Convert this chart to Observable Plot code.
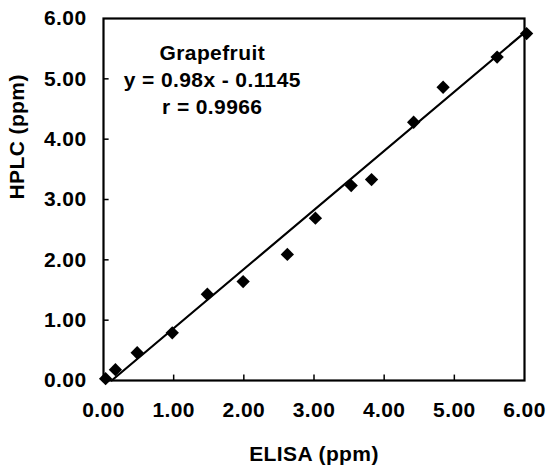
<!DOCTYPE html>
<html>
<head>
<meta charset="utf-8">
<script src="https://cdn.jsdelivr.net/npm/d3@7"></script>
<script src="https://cdn.jsdelivr.net/npm/@observablehq/plot@0.6"></script>
<style>
  html, body { margin: 0; padding: 0; background: #fff; }
  svg { font-family: "Liberation Sans", Arial, sans-serif; }
  svg text { letter-spacing: 0.4px; }
</style>
</head>
<body>
<div id="chart"></div>
<script>
// Data
const elisa = [0.03, 0.17, 0.48, 0.98, 1.48, 1.99, 2.62, 3.02, 3.53, 3.82, 4.42, 4.84, 5.61, 6.03];
const hplc  = [0.03, 0.18, 0.46, 0.79, 1.43, 1.64, 2.09, 2.69, 3.23, 3.33, 4.28, 4.86, 5.36, 5.75];
const xTicks = [0, 1, 2, 3, 4, 5, 6];
const yTicks = [0, 1, 2, 3, 4, 5, 6];
const innerTicks = [1, 2, 3, 4, 5];
const slope = 0.98, intercept = -0.1145;
const fitX = [0.117, 6.0];
const annotation = ["Grapefruit", "y = 0.98x - 0.1145", "r = 0.9966"];
const xTitle = "ELISA (ppm)";
const yTitle = "HPLC (ppm)";

const points = elisa.map((x, i) => ({x, y: hplc[i]}));
const fit = fitX.map(x => ({x, y: slope * x + intercept}));
const fmt = d => d.toFixed(2);

const chart = Plot.plot({
  width: 546,
  height: 467,
  marginLeft: 103,
  marginRight: 22,
  marginTop: 18,
  marginBottom: 87,
  style: {fontFamily: "'Liberation Sans', Arial, sans-serif", fontWeight: "bold", fontSize: "21px", color: "#000", background: "#fff"},
  x: {domain: [0, 6]},
  y: {domain: [0, 6]},
  marks: [
    Plot.axisX({ticks: xTicks, tickFormat: fmt, tickSize: 0, tickPadding: 22, fontSize: 21, fontWeight: "bold", label: null}),
    Plot.axisY({ticks: yTicks, tickFormat: fmt, tickSize: 0, tickPadding: 17, fontSize: 21, fontWeight: "bold", label: null}),
    Plot.ruleX(innerTicks, {x: d => d, y1: 0, y2: 0.09, stroke: "#000", strokeWidth: 1.5}),
    Plot.ruleY(innerTicks, {y: d => d, x1: 0, x2: 0.08, stroke: "#000", strokeWidth: 1.5}),
    Plot.frame({stroke: "#000", strokeWidth: 2.2}),
    Plot.line(fit, {x: "x", y: "y", stroke: "#000", strokeWidth: 2.2}),
    Plot.dot(points, {x: "x", y: "y", symbol: "diamond2", r: 6, fill: "#000", stroke: "none"}),
    Plot.text([annotation.join("\n")], {x: 1.55, y: 5.62, text: d => d, textAnchor: "middle", lineAnchor: "top", lineHeight: 1.27, fontSize: 21, fontWeight: "bold", fill: "#000"}),
    Plot.text([xTitle], {frameAnchor: "bottom", text: d => d, dy: 80, fontSize: 21, fontWeight: "bold", fill: "#000"}),
    Plot.text([yTitle], {frameAnchor: "left", text: d => d, dx: -86, rotate: -90, fontSize: 21, fontWeight: "bold", fill: "#000"})
  ]
});
document.getElementById("chart").appendChild(chart);
</script>
</body>
</html>
